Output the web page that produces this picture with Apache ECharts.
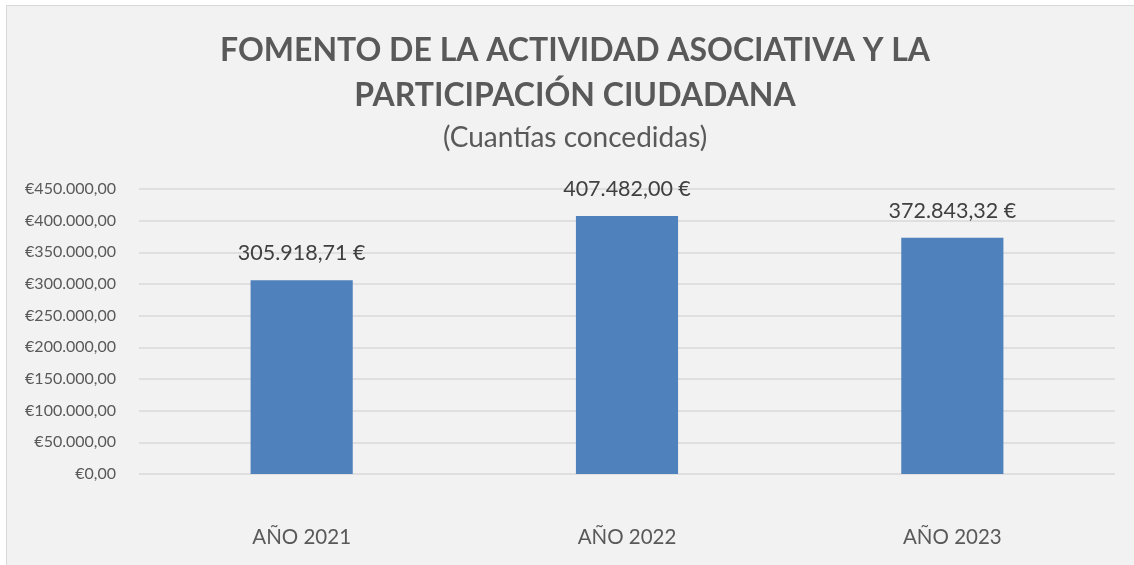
<!DOCTYPE html>
<html>
<head>
<meta charset="utf-8">
<script src="https://cdn.jsdelivr.net/npm/echarts@6/dist/echarts.min.js"></script>
<style>
	html, body {
		margin: 0;
		padding: 0;
		background: #ffffff;
		overflow: hidden;
	}
	#chart_container {
		position: absolute;
		left: 6px;
		top: 5px;
		width: 1128px;
		height: 560px;
		border-left: 1px solid #d9d9d9;
		border-top: 1px solid #d9d9d9;
		box-sizing: border-box;
	}
</style>
</head>
<body>
<div id="chart_container"></div>
<script>
const categories = ["AÑO 2021", "AÑO 2022", "AÑO 2023"]
const amounts = [305918.71, 407482.0, 372843.32]
const titleLines = ["FOMENTO DE LA ACTIVIDAD ASOCIATIVA Y LA", "PARTICIPACIÓN CIUDADANA"]
const subtitleText = "(Cuantías concedidas)"

const textColor = "#595959"
const fontFamily = "Lato, 'Open Sans', sans-serif"

// 1234567.8 -> "1.234.567,80"
function formatEs(value) {
	const parts = value.toFixed(2).split(".")
	const intPart = parts[0].replace(/\B(?=(\d{3})+(?!\d))/g, ".")
	return intPart + "," + parts[1]
}

const chart = echarts.init(document.querySelector("#chart_container"))
chart.setOption({
	backgroundColor: "#f2f2f2",
	textStyle: { fontFamily },
	title: [
		{
			text: titleLines.join("\n"),
			left: 563,
			top: 17,
			textAlign: "center",
			textStyle: {
				color: textColor,
				fontFamily,
				fontWeight: "bold",
				fontSize: 32,
				lineHeight: 45,
			},
		},
		{
			text: subtitleText,
			left: 563,
			top: 113,
			textAlign: "center",
			textStyle: {
				color: textColor,
				fontFamily,
				fontWeight: "normal",
				fontSize: 28,
			},
		},
	],
	grid: {
		left: 132,
		right: 19,
		top: 183,
		bottom: 91,
	},
	xAxis: {
		type: "category",
		data: categories,
		axisLine: { show: false },
		axisTick: { show: false },
		axisLabel: {
			color: textColor,
			fontSize: 20.5,
			margin: 53,
		},
	},
	yAxis: {
		type: "value",
		min: 0,
		max: 450000,
		interval: 50000,
		axisLine: { show: false },
		axisTick: { show: false },
		axisLabel: {
			color: textColor,
			fontSize: 16,
			margin: 23,
			formatter: (v) => "€" + formatEs(v),
		},
		splitLine: {
			lineStyle: { color: "#d9d9d9", width: 1.5 },
		},
	},
	series: [
		{
			type: "bar",
			data: amounts,
			barWidth: "31.4%",
			itemStyle: { color: "#4f81bd" },
			label: {
				show: true,
				position: "top",
				distance: 16,
				color: "#404040",
				fontSize: 21.5,
				formatter: (p) => formatEs(p.value) + " €",
			},
		},
	],
})
</script>
</body>
</html>
